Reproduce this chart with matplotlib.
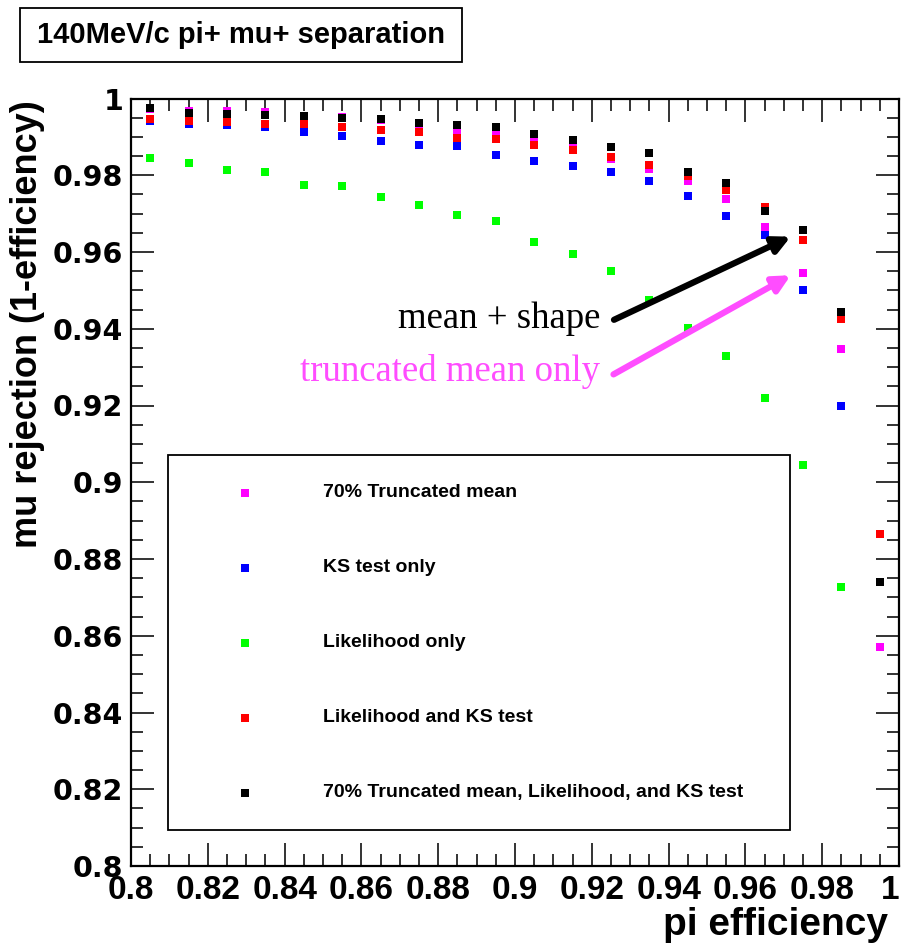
import numpy as np
import matplotlib
matplotlib.use("Agg")
import matplotlib.pyplot as plt
from matplotlib.patches import Rectangle
from matplotlib.ticker import MultipleLocator

# ---- data ----
pi_eff = [0.805, 0.815, 0.825, 0.835, 0.845, 0.855, 0.865, 0.875, 0.885, 0.895,
          0.905, 0.915, 0.925, 0.935, 0.945, 0.955, 0.965, 0.975, 0.985, 0.995]

trunc_mean = [0.9972, 0.9968, 0.9967, 0.9966, 0.9945, 0.9951, 0.9945, 0.9931, 0.9917, 0.9910,
              0.9894, 0.9880, 0.9842, 0.9817, 0.9786, 0.9737, 0.9664, 0.9546, 0.9348, 0.8571]
ks_only = [0.9942, 0.9934, 0.9931, 0.9927, 0.9913, 0.9903, 0.9890, 0.9880, 0.9875, 0.9854,
           0.9838, 0.9823, 0.9809, 0.9786, 0.9745, 0.9693, 0.9644, 0.9501, 0.9200, np.nan]
lh_only = [0.9844, 0.9831, 0.9813, 0.9809, 0.9775, 0.9772, 0.9743, 0.9722, 0.9697, 0.9680,
           0.9626, 0.9595, 0.9550, 0.9474, 0.9402, 0.9328, 0.9220, 0.9045, 0.8727, np.nan]
lh_ks = [0.9947, 0.9941, 0.9938, 0.9934, 0.9933, 0.9925, 0.9919, 0.9913, 0.9898, 0.9895,
         0.9878, 0.9865, 0.9847, 0.9827, 0.9798, 0.9761, 0.9717, 0.9631, 0.9425, 0.8864]
all_three = [0.9974, 0.9962, 0.9959, 0.9957, 0.9954, 0.9949, 0.9947, 0.9937, 0.9932, 0.9925,
             0.9908, 0.9892, 0.9874, 0.9858, 0.9809, 0.9779, 0.9708, 0.9658, 0.9443, 0.8740]

series_labels = ["70% Truncated mean", "KS test only", "Likelihood only",
                 "Likelihood and KS test", "70% Truncated mean, Likelihood, and KS test"]
series_colors = ["#ff00ff", "#0000ff", "#00ff00", "#ff0000", "#000000"]

x_ticks = [0.8, 0.82, 0.84, 0.86, 0.88, 0.9, 0.92, 0.94, 0.96, 0.98, 1.0]
x_tick_labels = ["0.8", "0.82", "0.84", "0.86", "0.88", "0.9", "0.92", "0.94", "0.96", "0.98", "1"]
y_ticks = [0.8, 0.82, 0.84, 0.86, 0.88, 0.9, 0.92, 0.94, 0.96, 0.98, 1.0]
y_tick_labels = ["0.8", "0.82", "0.84", "0.86", "0.88", "0.9", "0.92", "0.94", "0.96", "0.98", "1"]

title = "140MeV/c pi+ mu+ separation"
xlabel = "pi efficiency"
ylabel = "mu rejection (1-efficiency)"

# ---- figure ----
W, H = 904, 944
fig = plt.figure(figsize=(W / 100, H / 100), dpi=100)
ax = fig.add_axes([131 / W, 78 / H, 768 / W, 767.5 / H])

all_series = [trunc_mean, ks_only, lh_only, lh_ks, all_three]
for ys, c in zip(all_series, series_colors):
    ax.plot(pi_eff, ys, linestyle="none", marker="s", ms=5.8, mew=0, color=c, zorder=3)

ax.set_xlim(0.8, 1.0)
ax.set_ylim(0.8, 1.0)
ax.set_xticks(x_ticks)
xlabels = ax.set_xticklabels(x_tick_labels, fontfamily="Liberation Sans",
                             fontweight="bold", fontsize=24)
xlabels[-1].set_horizontalalignment("right")
ax.set_yticks(y_ticks)
ax.set_yticklabels(y_tick_labels, fontfamily="DejaVu Sans", fontweight="bold", fontsize=20.5)
ax.xaxis.set_minor_locator(MultipleLocator(0.005))
ax.yaxis.set_minor_locator(MultipleLocator(0.005))
ax.tick_params(which="both", direction="in", top=True, right=True, color="#333333")
ax.tick_params(which="major", length=16.5, width=1.4)
ax.tick_params(which="minor", length=8.5, width=1.4)
ax.tick_params(axis="x", which="major", pad=6.5)
ax.tick_params(axis="y", which="major", pad=5.5)
for s in ax.spines.values():
    s.set_linewidth(1.6)

# legend box (manual, ROOT style)
ax.add_patch(Rectangle((0.0482, 0.047), 0.8099, 0.488, transform=ax.transAxes,
                       fill=False, lw=1.3, edgecolor="black", zorder=4))
leg_rows = [0.4866, 0.3888, 0.2909, 0.1931, 0.0952]
for yy, lab, c in zip(leg_rows, series_labels, series_colors):
    ax.plot([0.1484], [yy], transform=ax.transAxes, linestyle="none", marker="s",
            ms=5.8, mew=0, color=c, zorder=5, clip_on=False)
    ax.text(0.2496, yy, lab, transform=ax.transAxes, ha="left", va="center",
            fontfamily="Liberation Sans", fontweight="bold", fontsize=14, zorder=5)

# annotations
ax.text(0.92214, 0.94012, "mean + shape", ha="right", va="baseline",
        fontfamily="Liberation Serif", fontsize=26.5, color="black")
ax.text(0.92214, 0.92642, "truncated mean only", ha="right", va="baseline",
        fontfamily="Liberation Serif", fontsize=26.5, color="#ff4dff")
ax.annotate("", xy=(0.9718, 0.9640), xytext=(0.92578, 0.94233),
            arrowprops=dict(arrowstyle="-|>", lw=4.5, color="black",
                            mutation_scale=25, shrinkA=0, shrinkB=0))
ax.annotate("", xy=(0.9718, 0.95395), xytext=(0.92565, 0.92811),
            arrowprops=dict(arrowstyle="-|>", lw=4.5, color="#ff4dff",
                            mutation_scale=25, shrinkA=0, shrinkB=0))

# title box
fig.patches.append(Rectangle((20 / W, 1 - 62 / H), 442 / W, 54 / H, transform=fig.transFigure,
                             fill=True, facecolor="white", edgecolor="black", lw=1.3))
fig.text(241 / W, 1 - 35 / H, title, ha="center", va="center",
         fontfamily="Liberation Sans", fontweight="bold", fontsize=21)

# axis titles
fig.text(888 / W, 1 - 925 / H, xlabel, ha="right", va="center",
         fontfamily="Liberation Sans", fontweight="bold", fontsize=28)
fig.text(28 / W, 1 - 100 / H, ylabel, ha="center", va="top", rotation=90,
         fontfamily="Liberation Sans", fontweight="bold", fontsize=26)

fig.savefig("out.png", dpi=100)
